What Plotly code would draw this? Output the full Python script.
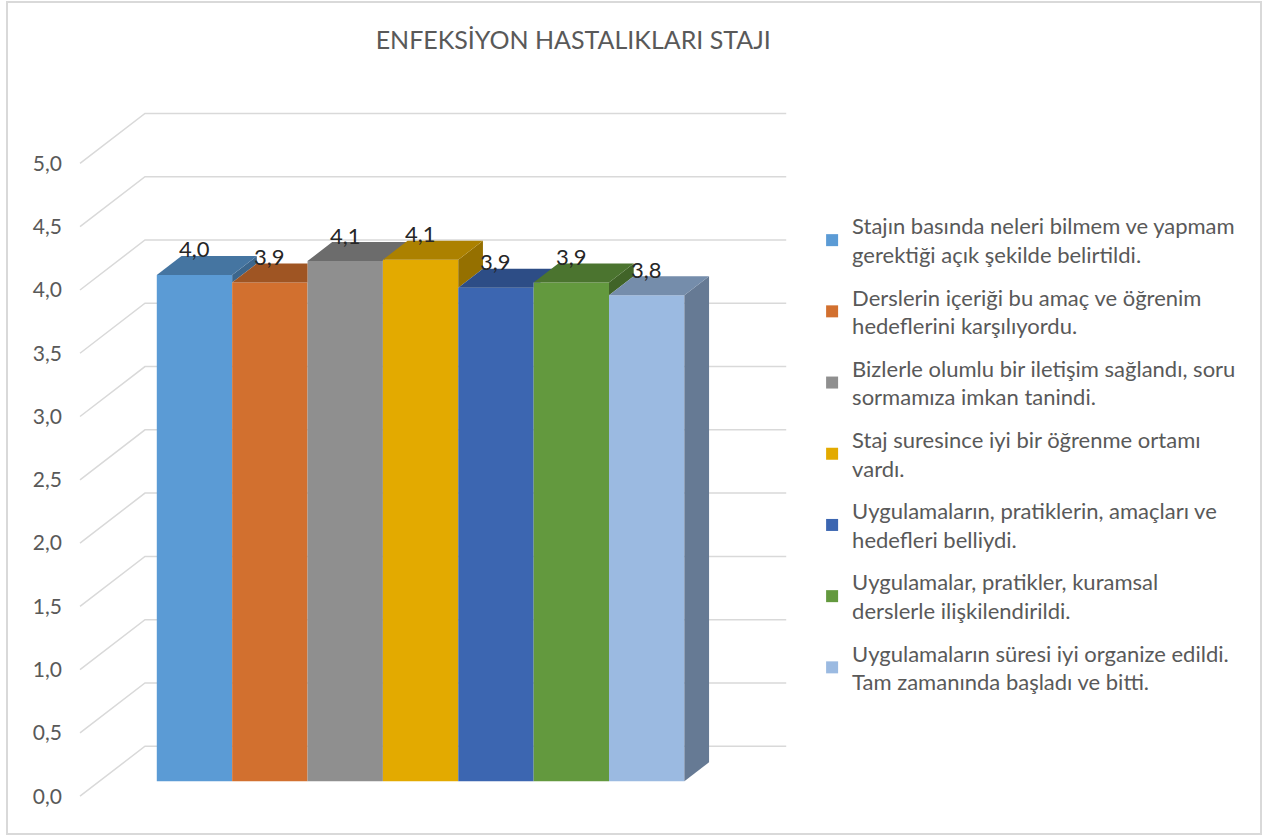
import plotly.graph_objects as go

# ---------------- data ----------------
title_text = "ENFEKSİYON HASTALIKLARI STAJI"
series_names = [
    "Stajın basında neleri bilmem ve yapmam<br>gerektiği açık şekilde belirtildi.",
    "Derslerin içeriği bu amaç ve öğrenim<br>hedeflerini karşılıyordu.",
    "Bizlerle olumlu bir iletişim sağlandı, soru<br>sormamıza imkan tanindi.",
    "Staj suresince iyi bir öğrenme ortamı<br>vardı.",
    "Uygulamaların, pratiklerin, amaçları ve<br>hedefleri belliydi.",
    "Uygulamalar, pratikler, kuramsal<br>derslerle ilişkilendirildi.",
    "Uygulamaların süresi iyi organize edildi.<br>Tam zamanında başladı ve bitti.",
]
values = [4.00, 3.94, 4.11, 4.12, 3.90, 3.94, 3.84]
front_colors = ["#5B9BD5", "#D2702F", "#8F8F8F", "#E3AA00", "#3C66B1", "#63993E", "#9BBAE1"]
y_ticks = [0.0, 0.5, 1.0, 1.5, 2.0, 2.5, 3.0, 3.5, 4.0, 4.5, 5.0]

# ---------------- pseudo-3D geometry (axis units) ----------------
DX, DY = 0.862, 0.395      # full depth offset of the floor / walls
F1, F2 = 0.30, 0.68        # bar front / back depth fractions
X_LEFT, X_RIGHT = -1.26, 8.11
TOP_K, SIDE_K = 0.76, 0.66


def shade(hex_color, k):
    h = hex_color.lstrip("#")
    r, g, b = (int(h[i:i + 2], 16) for i in (0, 2, 4))
    return "#%02X%02X%02X" % (int(r * k), int(g * k), int(b * k))


def clip_half(poly, axis, bound, keep_le):
    out = []
    n = len(poly)
    for k in range(n):
        cur, prev = poly[k], poly[k - 1]
        cin = cur[axis] <= bound if keep_le else cur[axis] >= bound
        pin = prev[axis] <= bound if keep_le else prev[axis] >= bound

        def inter():
            t = (bound - prev[axis]) / (cur[axis] - prev[axis])
            return (prev[0] + t * (cur[0] - prev[0]), prev[1] + t * (cur[1] - prev[1]))
        if cin:
            if not pin:
                out.append(inter())
            out.append(cur)
        elif pin:
            out.append(inter())
    return out


def to_xy(pieces):
    xs, ys = [], []
    for p in pieces:
        if len(p) < 3:
            continue
        if xs:
            xs.append(None)
            ys.append(None)
        xs += [q[0] for q in p] + [p[0][0]]
        ys += [q[1] for q in p] + [p[0][1]]
    return xs, ys


fig = go.Figure()

# front faces as real bars
for i, (v, name, c) in enumerate(zip(values, series_names, front_colors)):
    fig.add_trace(go.Bar(
        x=[i + F1 * DX], y=[v], base=[F1 * DY], width=[1.0],
        marker=dict(color=c, line=dict(width=0)),
        name=name, legendgroup=str(i), hoverinfo="skip",
    ))

# top and side faces
n = len(values)
for i, v in enumerate(values):
    L, R = i - 0.5, i + 0.5
    nxt = values[i + 1] if i + 1 < n else None
    lo = 0.0 if nxt is None else nxt
    if nxt is None or nxt < v:
        side = [(R + F1 * DX, lo + F1 * DY), (R + F1 * DX, v + F1 * DY),
                (R + F2 * DX, v + F2 * DY), (R + F2 * DX, lo + F2 * DY)]
        sx, sy = to_xy([side])
        fig.add_trace(go.Scatter(x=sx, y=sy, mode="lines", fill="toself",
                                 fillcolor=shade(front_colors[i], SIDE_K),
                                 line=dict(width=0), showlegend=False,
                                 legendgroup=str(i), hoverinfo="skip"))
    top = [(L + F1 * DX, v + F1 * DY), (R + F1 * DX, v + F1 * DY),
           (R + F2 * DX, v + F2 * DY), (L + F2 * DX, v + F2 * DY)]
    if nxt is not None and nxt > v:
        X0, Y0 = R + F1 * DX, nxt + F1 * DY
        p1 = clip_half(top, 0, X0, True)
        p2 = clip_half(clip_half(top, 0, X0, False), 1, Y0, False)
        pieces = [p1, p2]
    else:
        pieces = [top]
    tx, ty = to_xy(pieces)
    fig.add_trace(go.Scatter(x=tx, y=ty, mode="lines", fill="toself",
                             fillcolor=shade(front_colors[i], TOP_K),
                             line=dict(width=0), showlegend=False,
                             legendgroup=str(i), hoverinfo="skip"))

# value labels
annotations = []
for i, v in enumerate(values):
    annotations.append(dict(
        x=i + F1 * DX, y=v + F2 * DY, xref="x", yref="y",
        text=f"{v:.1f}".replace(".", ","), showarrow=False,
        xanchor="center", yanchor="middle", yshift=7,
        font=dict(family="Lato", size=22, color="#262626"),
    ))

# gridlines on left wall + back wall
shapes = []
for t in y_ticks:
    shapes.append(dict(
        type="path", xref="x", yref="y", layer="below",
        path=f"M {X_LEFT},{t} L {X_LEFT + DX},{t + DY} L {X_RIGHT},{t + DY}",
        line=dict(color="#D9D9D9", width=1.5),
    ))
# chart border
shapes.append(dict(type="rect", xref="paper", yref="paper",
                   x0=-0.0982, x1=1.6606, y0=-0.0492, y1=1.1548,
                   line=dict(color="#D9D9D9", width=2), layer="below"))

fig.update_layout(
    width=1264, height=836,
    margin=dict(l=77, r=474, t=109, b=36, autoexpand=False),
    paper_bgcolor="white", plot_bgcolor="white",
    barmode="overlay",
    separators=",.",
    font=dict(family="Lato", color="#595959"),
    title=dict(text=title_text, x=0.696, xref="paper", xanchor="center",
               y=0.952, yanchor="middle",
               font=dict(family="Lato", size=25, color="#595959")),
    xaxis=dict(range=[-1.30, 8.16], visible=False, fixedrange=True),
    yaxis=dict(range=[-0.03, 5.43], tickvals=y_ticks, tickformat=".1f",
               showgrid=False, zeroline=False, showline=False, ticks="",
               ticklabelstandoff=14,
               tickfont=dict(family="Lato", size=21, color="#595959")),
    legend=dict(x=1.031, xanchor="left", y=0.861, yanchor="top",
                font=dict(family="Lato", size=22, color="#595959"),
                tracegroupgap=11, bgcolor="rgba(0,0,0,0)"),
    annotations=annotations,
    shapes=shapes,
    showlegend=True,
)

fig.write_html("out.html", config={"displayModeBar": False},
               post_script="document.body.style.margin='0';")
